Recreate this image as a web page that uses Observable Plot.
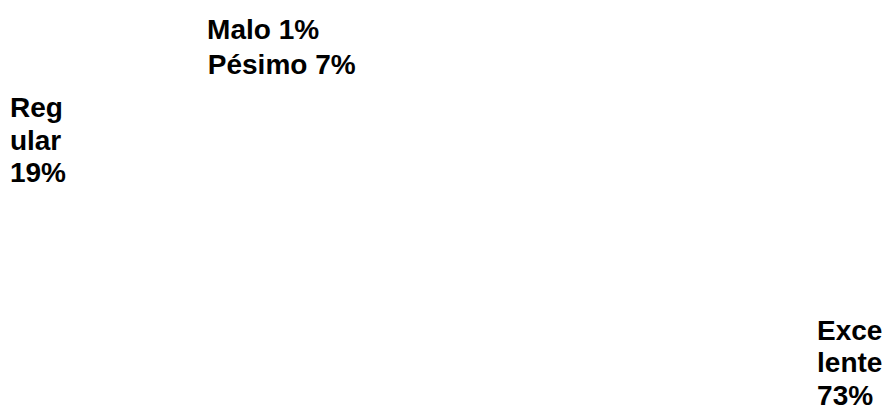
<!DOCTYPE html>
<html>
<head>
<meta charset="utf-8">
<script src="https://cdn.jsdelivr.net/npm/d3@7"></script>
<script src="https://cdn.jsdelivr.net/npm/@observablehq/plot@0.6"></script>
<style>
  html, body { margin: 0; padding: 0; background: #ffffff; }
  #chart { width: 888px; height: 413px; overflow: hidden; }
</style>
</head>
<body>
<div id="chart"></div>
<script>
// ---- data ----
const categories = ["Excelente", "Regular", "Pésimo", "Malo"];
const values = [73, 19, 7, 1];
const unit = "%";

// ---- style / layout config ----
const fontFamily = '"Liberation Sans", Arial, Helvetica, sans-serif';
const fontSize = 28;
const lineHeight = 1.157;
// label box width (px) Excel used for wrapped labels
const wrapWidth = { "Excelente": 67, "Regular": 67 };
// Excel's "best fit" displacement of each label from its slice anchor (px)
const labelNudge = {
  "Excelente": [79, 3],
  "Regular": [76, -26],
  "Pésimo": [-26, 19],
  "Malo": [-148, -10]
};

// ---- text wrapping (breaks inside words like Excel does) ----
const ctx = document.createElement("canvas").getContext("2d");
ctx.font = `bold ${fontSize}px ${fontFamily}`;
const w = s => ctx.measureText(s).width;
function wrap(text, maxW) {
  if (!maxW) return text;
  const lines = [];
  let line = "";
  for (const word of text.split(" ")) {
    const cand = line ? line + " " + word : word;
    if (w(cand) <= maxW) { line = cand; continue; }
    if (line) { lines.push(line); line = ""; }
    let part = "";
    for (const ch of word) {
      if (w(part + ch) <= maxW || !part) part += ch;
      else { lines.push(part); part = ch; }
    }
    line = part;
  }
  if (line) lines.push(line);
  return lines.join("\n");
}

// ---- pie geometry (Excel: starts at 12 o'clock, clockwise) ----
const arcs = d3.pie().sort(null).startAngle(0).endAngle(2 * Math.PI)(values);
const rows = categories.map((c, i) => {
  const a = (arcs[i].startAngle + arcs[i].endAngle) / 2;
  return {
    category: c,
    value: values[i],
    x: Math.sin(a),
    y: Math.cos(a),
    label: wrap(`${c} ${values[i]}${unit}`, wrapWidth[c])
  };
});

const chart = Plot.plot({
  width: 888,
  height: 413,
  margin: 0,
  x: { domain: [-1, 1], range: [-120, 860], axis: null },
  y: { domain: [-1, 1], range: [372, 25], axis: null },
  style: { background: "#ffffff", overflow: "visible" },
  marks: rows.map(r => Plot.text([r], {
    x: "x",
    y: "y",
    text: "label",
    textAnchor: "start",
    lineAnchor: "top",
    lineHeight,
    fontSize,
    fontWeight: "bold",
    fontFamily,
    fill: "#000000",
    dx: labelNudge[r.category][0],
    dy: labelNudge[r.category][1]
  }))
});
document.getElementById("chart").appendChild(chart);
</script>
</body>
</html>
